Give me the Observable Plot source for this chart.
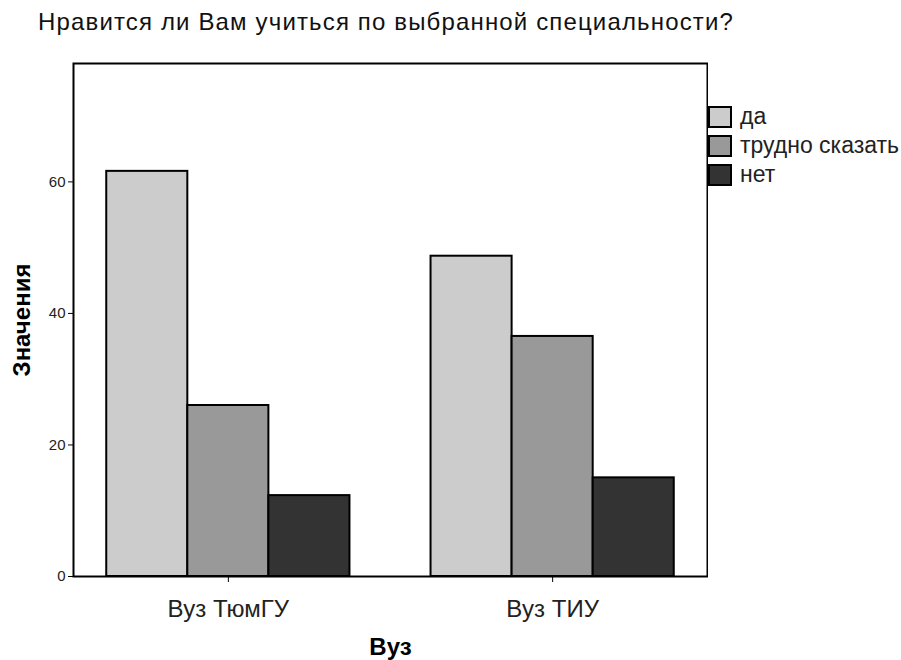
<!DOCTYPE html>
<html>
<head>
<meta charset="utf-8">
<script src="https://cdn.jsdelivr.net/npm/d3@7"></script>
<script src="https://cdn.jsdelivr.net/npm/@observablehq/plot@0.6"></script>
<style>
  body { margin: 0; background: #fff; font-family: "Liberation Sans", Arial, sans-serif; }
  #wrap { position: relative; width: 901px; height: 660px; overflow: hidden; }
  #title { position: absolute; left: 38px; top: 8px; font-size: 24px; letter-spacing: 1.15px; color: #111; white-space: nowrap; line-height: normal; }
  #chart { position: absolute; left: 0; top: 50px; }
  #legend { position: absolute; left: 708px; top: 102px; }
  .row { display: flex; align-items: center; height: 29px; }
  .sw { width: 20px; height: 18px; border: 2px solid #000; box-sizing: content-box; margin-right: 8px; }
  .lab { font-size: 23px; color: #222; white-space: nowrap; }
  svg text { fill: #222; }
  g[aria-label="x-axis"] g.tick text, g[aria-label="x-axis tick label"] text { font-size: 24px; }
  g[aria-label="y-axis"] g.tick text, g[aria-label="y-axis tick label"] text { font-size: 15px; }
  g[aria-label="x-axis"] > text, g[aria-label="x-axis label"] text,
  g[aria-label="y-axis"] > text, g[aria-label="y-axis label"] text { font-size: 24px; font-weight: bold; fill: #000; }
</style>
</head>
<body>
<div id="wrap">
  <div id="title">Нравится ли Вам учиться по выбранной специальности?</div>
  <div id="chart"></div>
  <div id="legend"></div>
</div>
<script>
const vuzList = ["Вуз ТюмГУ", "Вуз ТИУ"];
const answers = ["да", "трудно сказать", "нет"];
const valuesTyumGU = [61.6, 26.0, 12.3];
const valuesTIU = [48.7, 36.5, 15.0];
const colors = ["#cccccc", "#999999", "#333333"];
const yTicks = [0, 20, 40, 60];
const xLabel = "Вуз";
const yLabel = "Значения";

const seriesValues = [valuesTyumGU, valuesTIU];
const rows = [];
vuzList.forEach((v, i) => answers.forEach((a, j) => rows.push({vuz: v, answer: a, value: seriesValues[i][j], key: v + "|" + a})));

// band domain: three bars per group with one empty slot between groups
const domain = [];
vuzList.forEach((v, i) => {
  if (i > 0) domain.push("gap" + i);
  answers.forEach(a => domain.push(v + "|" + a));
});
const tickKeys = vuzList.map(v => v + "|" + answers[1]);

const chart = Plot.plot({
  width: 708,
  height: 610,
  marginLeft: 73,
  marginRight: 1,
  marginTop: 13,
  marginBottom: 84,
  style: { fontFamily: "'Liberation Sans', Arial, sans-serif", background: "transparent" },
  x: {
    domain,
    round: false,
    paddingInner: 0,
    paddingOuter: 0.41,
    ticks: tickKeys,
    tickFormat: k => k.split("|")[0],
    tickSize: 6,
    tickPadding: 17,
    label: xLabel,
    labelArrow: false,
    labelAnchor: "center",
    labelOffset: 78
  },
  y: {
    domain: [0, 78],
    ticks: yTicks,
    tickSize: 5,
    tickPadding: 3,
    label: yLabel,
    labelArrow: false,
    labelAnchor: "center",
    labelOffset: 61
  },
  color: { domain: answers, range: colors },
  marks: [
    Plot.barY(rows, { x: "key", y: "value", fill: "answer", stroke: "#000", strokeWidth: 2 }),
    Plot.frame({ stroke: "#000", strokeWidth: 2 })
  ]
});
document.getElementById("chart").appendChild(chart);

const legend = document.getElementById("legend");
answers.forEach((a, j) => {
  const row = document.createElement("div");
  row.className = "row";
  const sw = document.createElement("div");
  sw.className = "sw";
  sw.style.background = colors[j];
  const lab = document.createElement("span");
  lab.className = "lab";
  lab.textContent = a;
  row.appendChild(sw);
  row.appendChild(lab);
  legend.appendChild(row);
});
</script>
</body>
</html>
